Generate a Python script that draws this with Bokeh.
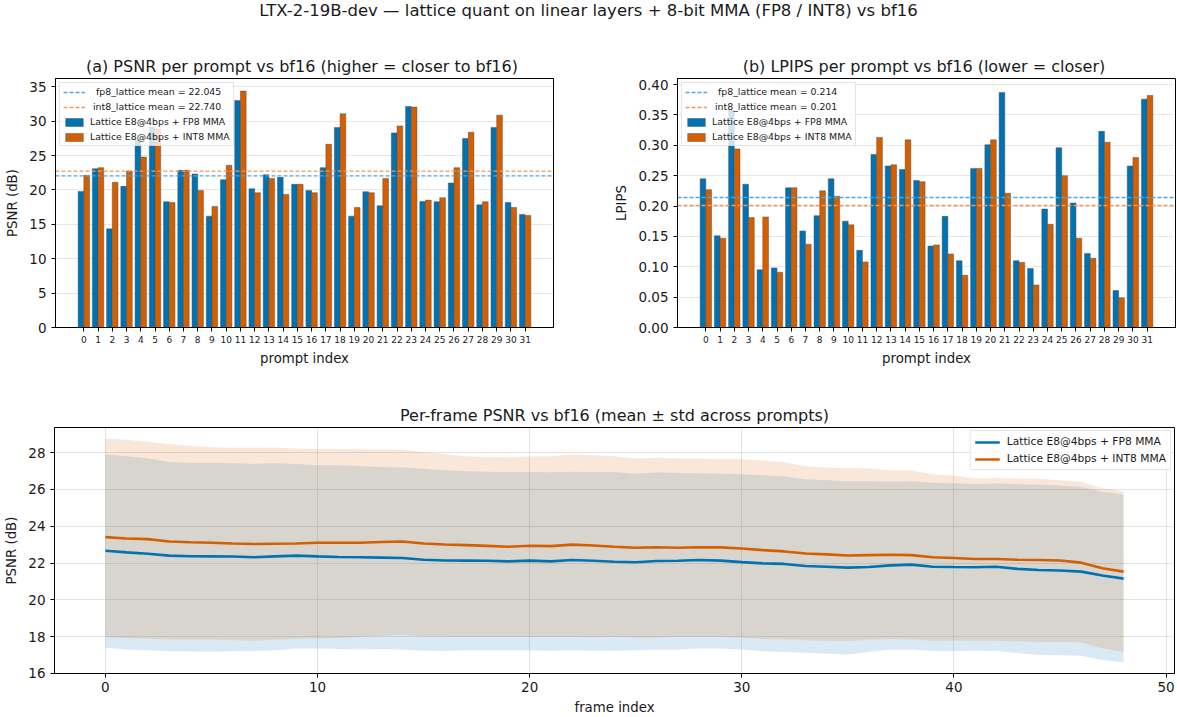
from bokeh.plotting import figure
from bokeh.models import (Range1d, ColumnDataSource, Legend, LegendItem, Div,
                          FixedTicker, NumeralTickFormatter)
from bokeh.transform import dodge
from bokeh.layouts import column, row
from bokeh.embed import file_html
from bokeh.resources import INLINE

FONT = "DejaVu Sans"
BLUE = "#0072B2"
ORANGE = "#D55E00"
FP8_MEAN_COLOR = "#4da6dc"
INT8_MEAN_COLOR = "#e99a66"
TXT = "#1a1a1a"

# ---------------- data ----------------
prompts = list(range(32))
psnr_fp8 = [19.79, 23.09, 14.34, 20.52, 27.30, 29.15, 18.28, 22.85, 22.31, 16.19,
            21.49, 33.01, 20.17, 22.22, 21.83, 20.81, 19.93, 23.24, 29.07, 16.19,
            19.74, 17.70, 28.29, 32.13, 18.33, 18.28, 21.00, 27.47, 17.84, 29.07,
            18.18, 16.43]
psnr_int8 = [22.12, 23.24, 21.10, 22.75, 24.77, 28.85, 18.18, 22.85, 19.93, 17.60,
             23.58, 34.37, 19.59, 21.68, 19.35, 20.81, 19.59, 26.64, 31.06, 17.45,
             19.59, 21.68, 29.31, 32.04, 18.52, 18.86, 23.24, 28.39, 18.28, 30.87,
             17.45, 16.29]
lpips_fp8 = [0.245, 0.151, 0.358, 0.236, 0.095, 0.098, 0.230, 0.159, 0.184, 0.245,
             0.175, 0.127, 0.285, 0.266, 0.260, 0.242, 0.134, 0.183, 0.110, 0.262,
             0.301, 0.387, 0.110, 0.097, 0.195, 0.296, 0.205, 0.122, 0.323, 0.061,
             0.266, 0.376]
lpips_int8 = [0.227, 0.147, 0.294, 0.181, 0.182, 0.091, 0.230, 0.137, 0.225, 0.216,
              0.169, 0.108, 0.313, 0.268, 0.309, 0.240, 0.136, 0.121, 0.086, 0.262,
              0.309, 0.221, 0.107, 0.070, 0.170, 0.250, 0.147, 0.114, 0.305, 0.049,
              0.280, 0.382]
psnr_mean_fp8 = 22.045
psnr_mean_int8 = 22.740
lpips_mean_fp8 = 0.214
lpips_mean_int8 = 0.201

frames = list(range(49))
fp8_mean = [22.67, 22.58, 22.50, 22.40, 22.37, 22.36, 22.35, 22.31, 22.36, 22.40,
            22.36, 22.33, 22.31, 22.29, 22.27, 22.18, 22.14, 22.13, 22.12, 22.09,
            22.13, 22.09, 22.16, 22.12, 22.07, 22.04, 22.11, 22.12, 22.16, 22.13,
            22.05, 21.98, 21.95, 21.84, 21.80, 21.75, 21.78, 21.87, 21.91, 21.80,
            21.78, 21.77, 21.80, 21.68, 21.62, 21.59, 21.53, 21.32, 21.15]
int8_mean = [23.41, 23.33, 23.30, 23.17, 23.13, 23.10, 23.06, 23.03, 23.05, 23.06,
             23.10, 23.10, 23.10, 23.14, 23.17, 23.06, 23.01, 22.97, 22.93, 22.88,
             22.94, 22.92, 23.00, 22.95, 22.88, 22.83, 22.86, 22.83, 22.86, 22.85,
             22.79, 22.70, 22.63, 22.52, 22.47, 22.41, 22.43, 22.45, 22.43, 22.31,
             22.27, 22.22, 22.22, 22.18, 22.16, 22.14, 22.02, 21.71, 21.53]
fp8_hi = [27.90, 27.80, 27.70, 27.50, 27.45, 27.45, 27.42, 27.40, 27.43, 27.38,
          27.32, 27.32, 27.28, 27.22, 27.20, 27.12, 27.05, 26.99, 26.97, 26.95,
          26.95, 26.93, 26.97, 26.95, 26.95, 26.86, 26.93, 26.90, 26.88, 26.85,
          26.83, 26.77, 26.70, 26.56, 26.50, 26.45, 26.44, 26.43, 26.45, 26.36,
          26.34, 26.29, 26.32, 26.29, 26.27, 26.22, 26.13, 25.87, 25.73]
fp8_lo = [17.39, 17.30, 17.25, 17.20, 17.18, 17.17, 17.20, 17.22, 17.25, 17.35,
          17.35, 17.32, 17.30, 17.32, 17.30, 17.23, 17.22, 17.25, 17.25, 17.25,
          17.26, 17.23, 17.26, 17.23, 17.23, 17.25, 17.30, 17.30, 17.35, 17.35,
          17.30, 17.20, 17.16, 17.12, 17.06, 17.03, 17.16, 17.30, 17.30, 17.21,
          17.21, 17.23, 17.21, 17.10, 17.00, 16.98, 16.96, 16.72, 16.60]
int8_hi = [28.76, 28.70, 28.60, 28.47, 28.38, 28.30, 28.27, 28.27, 28.28, 28.22,
           28.20, 28.20, 28.19, 28.17, 28.16, 28.02, 27.92, 27.80, 27.77, 27.75,
           27.80, 27.80, 27.90, 27.86, 27.80, 27.69, 27.72, 27.68, 27.68, 27.66,
           27.66, 27.57, 27.48, 27.26, 27.20, 27.17, 27.14, 27.05, 27.03, 26.83,
           26.76, 26.60, 26.63, 26.60, 26.58, 26.50, 26.40, 26.07, 25.90]
int8_lo = [17.98, 17.92, 17.88, 17.84, 17.83, 17.82, 17.80, 17.77, 17.82, 17.86,
           17.90, 17.92, 17.98, 18.04, 18.10, 18.00, 17.99, 17.98, 17.98, 17.98,
           17.98, 17.97, 17.98, 17.96, 17.98, 17.95, 17.95, 17.97, 17.98, 17.98,
           17.93, 17.86, 17.84, 17.80, 17.77, 17.76, 17.82, 17.86, 17.84, 17.77,
           17.79, 17.77, 17.77, 17.73, 17.71, 17.70, 17.68, 17.35, 17.17]

label_fp8 = "Lattice E8@4bps + FP8 MMA"
label_int8 = "Lattice E8@4bps + INT8 MMA"
suptitle = "LTX-2-19B-dev \u2014 lattice quant on linear layers + 8-bit MMA (FP8 / INT8) vs bf16"


def style(p, ytick_size="13.5px", xtick_size="13.5px"):
    p.background_fill_color = "white"
    p.border_fill_color = "white"
    p.outline_line_color = "black"
    p.outline_line_width = 1
    p.outline_line_alpha = 1
    p.title.text_font = FONT
    p.title.text_font_size = "16px"
    p.title.text_font_style = "normal"
    p.title.text_color = TXT
    p.title.align = "center"
    p.title.standoff = 5
    for ax in p.axis:
        ax.axis_line_color = "black"
        ax.major_tick_line_color = "black"
        ax.major_tick_out = 4
        ax.major_tick_in = 0
        ax.minor_tick_line_color = None
        ax.major_label_text_font = FONT
        ax.major_label_text_color = TXT
        ax.axis_label_text_font = FONT
        ax.axis_label_text_font_size = "13.3px"
        ax.axis_label_text_font_style = "normal"
        ax.axis_label_text_color = TXT
    for ax in p.yaxis:
        ax.major_label_text_font_size = ytick_size
        ax.major_label_standoff = 5
        ax.axis_label_standoff = 6
    for ax in p.xaxis:
        ax.major_label_text_font_size = xtick_size
        ax.major_label_standoff = 4
        ax.axis_label_standoff = 5


def bar_panel(title, ylabel, y_fp8, y_int8, m_fp8, m_int8, ymax, yticks, fmt,
              width, left, right):
    xlo, xhi = -1.99, 32.99
    p = figure(width=width, height=330, output_backend="svg", toolbar_location=None,
               x_range=Range1d(xlo, xhi), y_range=Range1d(0, ymax), title=title,
               min_border_left=left, min_border_right=right, min_border_top=38,
               min_border_bottom=43)
    src = ColumnDataSource(dict(idx=prompts, fp8=y_fp8, int8=y_int8))
    r1 = p.vbar(x=dodge("idx", -0.2, range=p.x_range), top="fp8", width=0.4, source=src,
                fill_color=BLUE, line_color="#4d4d4d", line_width=0.6, line_alpha=0.8)
    r2 = p.vbar(x=dodge("idx", 0.2, range=p.x_range), top="int8", width=0.4, source=src,
                fill_color=ORANGE, line_color="#4d4d4d", line_width=0.6, line_alpha=0.8)
    l1 = p.line(x=[xlo, xhi], y=[m_fp8, m_fp8], line_color=FP8_MEAN_COLOR,
                line_width=1.4, line_dash="4 2")
    l2 = p.line(x=[xlo, xhi], y=[m_int8, m_int8], line_color=INT8_MEAN_COLOR,
                line_width=1.4, line_dash="4 2")
    style(p, xtick_size="9px")
    p.xaxis.ticker = FixedTicker(ticks=prompts)
    p.yaxis.ticker = FixedTicker(ticks=yticks)
    if fmt:
        p.yaxis.formatter = NumeralTickFormatter(format=fmt)
    p.xaxis.axis_label = "prompt index"
    p.yaxis.axis_label = ylabel
    p.xgrid.grid_line_color = None
    p.ygrid.grid_line_color = "#b0b0b0"
    p.ygrid.grid_line_alpha = 0.3
    leg = Legend(items=[
        LegendItem(label=f"{'fp8_lattice':>13} mean = {m_fp8:.3f}", renderers=[l1]),
        LegendItem(label=f"{'int8_lattice':>13} mean = {m_int8:.3f}", renderers=[l2]),
        LegendItem(label=label_fp8, renderers=[r1]),
        LegendItem(label=label_int8, renderers=[r2]),
    ], location="top_left", margin=4, padding=3, spacing=4, glyph_width=22,
        glyph_height=10, label_height=11, label_standoff=5,
        label_text_font=FONT, label_text_font_size="9.4px", label_text_color=TXT,
        border_line_color="#cccccc", border_line_width=1,
        background_fill_color="white", background_fill_alpha=0.8)
    p.add_layout(leg)
    return p


pa = bar_panel("(a) PSNR per prompt vs bf16  (higher = closer to bf16)", "PSNR (dB)",
               psnr_fp8, psnr_int8, psnr_mean_fp8, psnr_mean_int8, 36.2,
               [0, 5, 10, 15, 20, 25, 30, 35], None, 610, 55, 57)
pb = bar_panel("(b) LPIPS per prompt vs bf16  (lower = closer)", "LPIPS",
               lpips_fp8, lpips_int8, lpips_mean_fp8, lpips_mean_int8, 0.41,
               [0.0, 0.05, 0.10, 0.15, 0.20, 0.25, 0.30, 0.35, 0.40], "0.00", 567, 67, 2)

# ---------------- per-frame panel ----------------
pc = figure(width=1177, height=347, output_backend="svg", toolbar_location=None,
            x_range=Range1d(-2.4, 50.4), y_range=Range1d(15.99, 29.37),
            title="Per-frame PSNR vs bf16 (mean \u00b1 std across prompts)",
            min_border_left=54, min_border_right=3, min_border_top=57,
            min_border_bottom=43)
fsrc = ColumnDataSource(dict(f=frames, m1=fp8_mean, m2=int8_mean, h1=fp8_hi, l1=fp8_lo,
                             h2=int8_hi, l2=int8_lo))
pc.varea(x="f", y1="l1", y2="h1", source=fsrc, fill_color=BLUE, fill_alpha=0.15)
pc.varea(x="f", y1="l2", y2="h2", source=fsrc, fill_color=ORANGE, fill_alpha=0.15)
c1 = pc.line(x="f", y="m1", source=fsrc, line_color=BLUE, line_width=2.6)
c2 = pc.line(x="f", y="m2", source=fsrc, line_color=ORANGE, line_width=2.6)
style(pc)
pc.xaxis.ticker = FixedTicker(ticks=[0, 10, 20, 30, 40, 50])
pc.yaxis.ticker = FixedTicker(ticks=[16, 18, 20, 22, 24, 26, 28])
pc.xaxis.axis_label = "frame index"
pc.yaxis.axis_label = "PSNR (dB)"
pc.grid.grid_line_color = "#b0b0b0"
pc.grid.grid_line_alpha = 0.35
legc = Legend(items=[LegendItem(label=label_fp8, renderers=[c1]),
                     LegendItem(label=label_int8, renderers=[c2])],
              location="top_right", margin=3, padding=4, spacing=4, glyph_width=25,
              glyph_height=12, label_height=12, label_standoff=7,
              label_text_font=FONT, label_text_font_size="10.7px", label_text_color=TXT,
              border_line_color="#cccccc", border_line_width=1,
              background_fill_color="white", background_fill_alpha=0.8)
pc.add_layout(legc)

head = Div(text=f'<div style="width:1177px;text-align:center;font-family:\'DejaVu Sans\';'
                f'font-size:16.5px;line-height:21px;color:{TXT};">{suptitle}</div>',
           width=1177, height=40, margin=(0, 0, 0, 0))

layout = column(head, row(pa, pb, spacing=0), pc, spacing=0)

open("out.html", "w", encoding="utf-8").write(file_html(layout, INLINE))
